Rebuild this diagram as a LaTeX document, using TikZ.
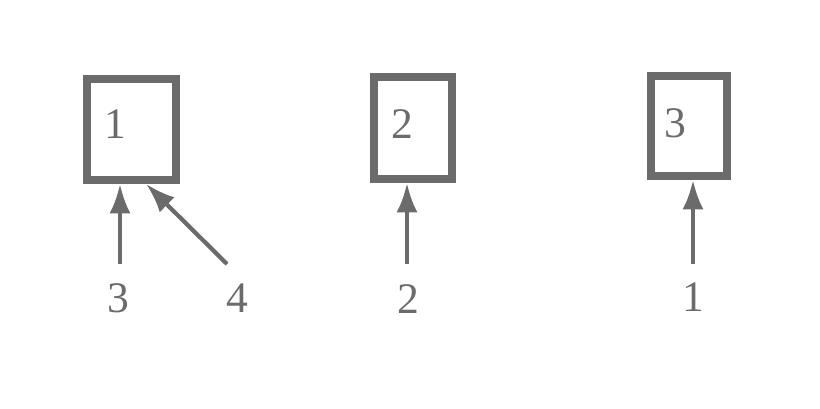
\documentclass[tikz,border=0pt]{standalone}
\usepackage{fontspec}
\setmainfont{Liberation Serif}
\usepackage{tikz}
\usetikzlibrary{arrows.meta}
\definecolor{ink}{gray}{0.42}

\begin{document}
\begin{tikzpicture}[x=0.025cm,y=-0.025cm,
	block/.style={draw=ink,line width=5.5pt,rectangle,inner sep=0pt},
	num/.style={text=ink,font=\fontsize{31}{37}\selectfont,inner sep=0pt},
	feed/.style={draw=ink,line width=3pt,-{Latex[length=21pt,width=15pt]}}]
	\useasboundingbox (0,0) rectangle (820,408);
	\node[block,minimum width=2.225cm,minimum height=2.525cm] (b1) at (131.5,129.5) {};
	\node[block,minimum width=1.95cm,minimum height=2.55cm] (b2) at (413,128) {};
	\node[block,minimum width=1.9cm,minimum height=2.5cm] (b3) at (689,126) {};
	\node[num] (n1) at (115,124) {1};
	\node[num] (n2) at (402,124) {2};
	\node[num] (n3) at (675,123) {3};
	\node[num] (l3) at (118,298) {3};
	\node[num] (l4) at (237,298) {4};
	\node[num] (l2) at (408,299) {2};
	\node[num] (l1) at (693,297) {1};
	\coordinate (t3) at (120,264);
	\coordinate (t4) at (227,264);
	\coordinate (t2) at (407,264);
	\coordinate (t1) at (693,264);
	\draw[feed] (t3) -- (b1.south -| t3);
	\draw[feed] (t4) -- (b1.-75);
	\draw[feed] (t2) -- (b2.south -| t2);
	\draw[feed] (t1) -- (b3.south -| t1);
\end{tikzpicture}
\end{document}
